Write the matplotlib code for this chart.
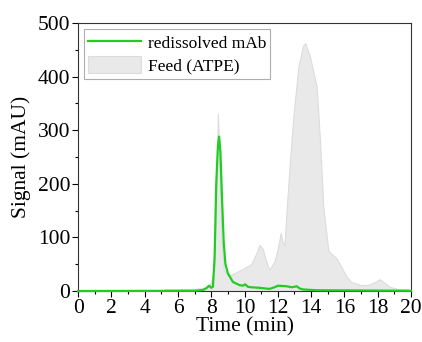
import matplotlib
matplotlib.use("Agg")
import matplotlib.pyplot as plt
from matplotlib.ticker import MultipleLocator

plt.rcParams['font.family'] = ['Liberation Serif', 'DejaVu Serif']

# Feed (ATPE) chromatogram
feed_t = [0, 5.0, 5.3, 5.6, 6.5, 7.0, 7.5, 7.9, 8.1, 8.25, 8.4, 8.5, 8.6, 8.75, 9.0, 9.3,
          9.7, 10.1, 10.4, 10.7, 10.9, 11.1, 11.3, 11.5, 11.8, 12.0, 12.17, 12.3, 12.4, 12.5,
          12.7, 12.93, 13.23, 13.53, 13.65, 13.93, 14.33, 14.53, 14.73, 15.03, 15.2, 15.5, 15.8,
          16.1, 16.4, 17.0, 17.5, 17.9, 18.1, 18.3, 18.7, 19.2, 20]
feed_v = [0, 0, 4, 3, 4, 4, 6, 10, 30, 120, 330, 250, 100, 40, 28, 32,
          38, 45, 50, 70, 86, 78, 55, 40, 55, 80, 108, 90, 85, 139,
          230, 325, 418, 459, 462, 437, 381, 282, 157, 76, 70, 62, 46,
          28, 17, 11, 12, 18, 22, 18, 8, 4, 2]

# redissolved mAb
mab_t = [0, 7.0, 7.5, 7.7, 7.87, 8.0, 8.1, 8.2, 8.3, 8.4, 8.47, 8.55, 8.65, 8.75, 8.85,
         9.0, 9.3, 9.7, 9.9, 10.03, 10.2, 10.4, 10.9, 11.5, 11.8, 12.0, 12.5, 12.85, 13.0,
         13.13, 13.3, 13.5, 14.3, 20]
mab_v = [0, 0.5, 2, 5, 10, 6, 8, 60, 200, 270, 288, 260, 170, 90, 50,
         33, 17, 11, 10, 12.5, 8, 7, 6, 4, 7, 10, 9, 7, 8,
         9, 5, 3, 1.5, 0.5]

fig = plt.figure(figsize=(4.22, 3.42), dpi=100)
ax = fig.add_axes([0.185, 0.149, 0.789, 0.784])

ax.fill_between(feed_t, feed_v, 0, facecolor='#e9e9e9', edgecolor='#dcdcdc',
                linewidth=0.8, label='Feed (ATPE)')
ax.plot(mab_t, mab_v, color='#22cc22', linewidth=1.6, label='redissolved mAb', clip_on=False, zorder=3)

ax.set_xlim(0, 20)
ax.set_ylim(0, 500)
ax.xaxis.set_major_locator(MultipleLocator(2))
ax.xaxis.set_minor_locator(MultipleLocator(1))
ax.yaxis.set_major_locator(MultipleLocator(100))
ax.yaxis.set_minor_locator(MultipleLocator(50))
ax.tick_params(which='both', direction='out', top=False, right=False, labelsize=15.5, pad=1.5)
ax.tick_params(which='major', length=4, width=0.8)
ax.tick_params(which='minor', length=2.5, width=0.8)
for s in ax.spines.values():
    s.set_linewidth(0.8)
    s.set_color('#333333')

ax.set_xlabel('Time (min)', fontsize=15.5, labelpad=0)
ax.set_ylabel('Signal (mAU)', fontsize=15.5, labelpad=5)

h, l = ax.get_legend_handles_labels()
leg = ax.legend(h[::-1], l[::-1], loc='upper left', fontsize=12.5, frameon=True, fancybox=False,
                edgecolor='#999999', handlelength=3.0, handleheight=1.2, borderaxespad=0.35,
                borderpad=0.25, labelspacing=0.2, handletextpad=0.4)
leg.get_frame().set_linewidth(0.8)

fig.savefig('out.png', dpi=100)
